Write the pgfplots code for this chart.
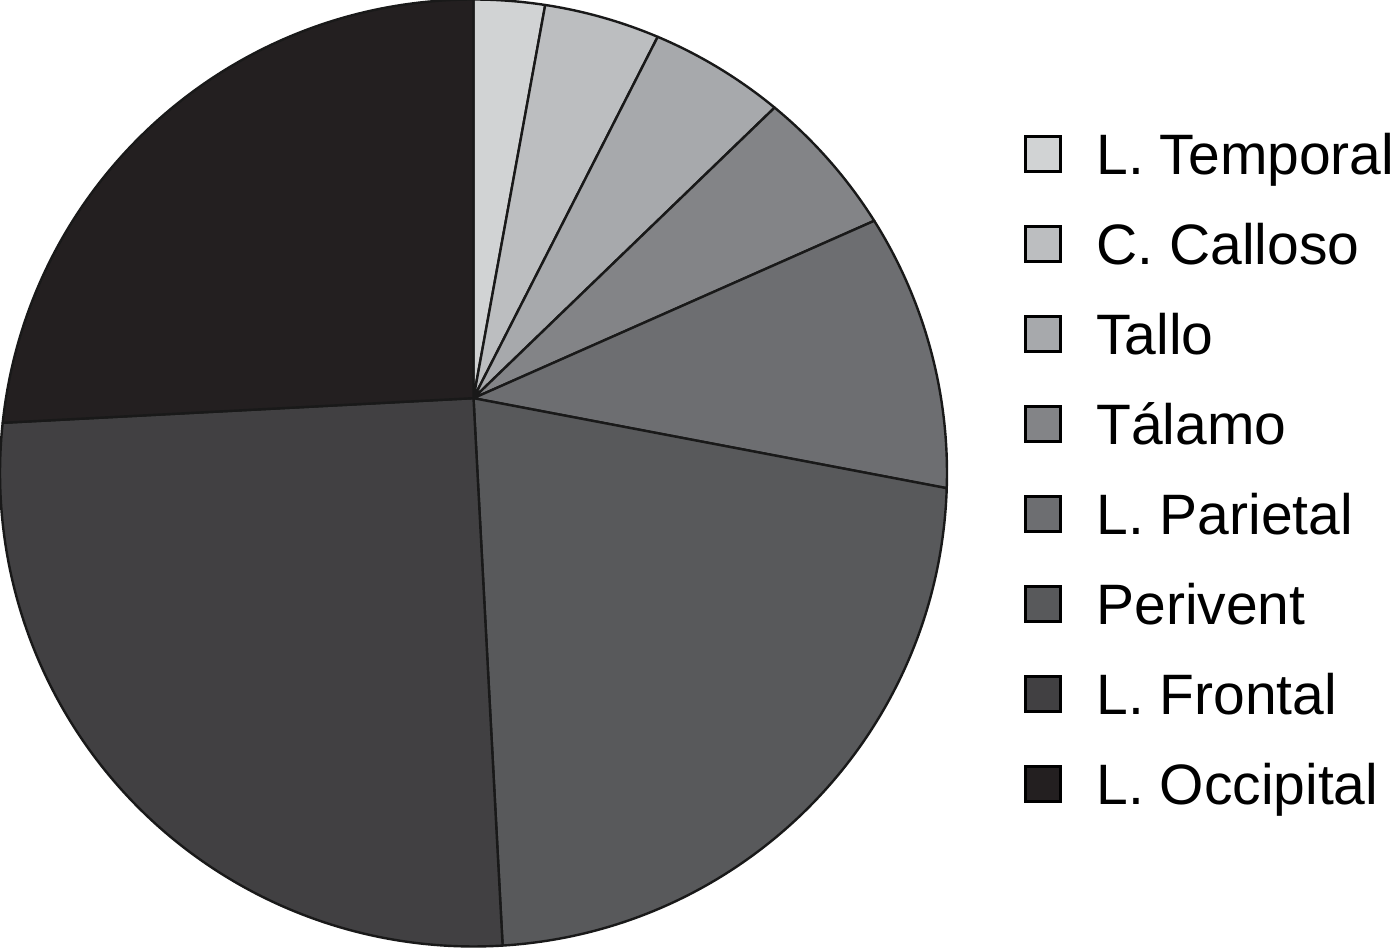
\documentclass[border=0pt]{standalone}
\usepackage{fontspec}
\setmainfont{Liberation Sans}
\usepackage{pgfplots}
\usepackage{pgfplotstable}
\pgfplotsset{compat=1.18}

\definecolor{slice0}{HTML}{D1D3D4}
\definecolor{slice1}{HTML}{BCBEC0}
\definecolor{slice2}{HTML}{A7A9AC}
\definecolor{slice3}{HTML}{838487}
\definecolor{slice4}{HTML}{6D6E71}
\definecolor{slice5}{HTML}{58595B}
\definecolor{slice6}{HTML}{414042}
\definecolor{slice7}{HTML}{231F20}

% percentages of the circle, clockwise from the top
\pgfplotstableread{
pct
2.42
3.94
4.61
5.09
9.45
23.51
27.67
23.31
}\piedata

\begin{document}
\begin{tikzpicture}
\useasboundingbox (0,0) rectangle (697pt,474pt);
% cumulative boundary angles
\expandafter\xdef\csname b0\endcsname{90}
\xdef\cum{0}
\foreach \i in {0,...,7}{
  \pgfplotstablegetelem{\i}{pct}\of\piedata
  \pgfmathsetmacro\tmp{\cum+\pgfplotsretval}
  \xdef\cum{\tmp}
  \pgfmathtruncatemacro\j{\i+1}
  \pgfmathsetmacro\ang{90-3.6*\tmp}
  \expandafter\xdef\csname b\j\endcsname{\ang}
}
\def\R{236.75pt}
\begin{axis}[
  at={(0pt,0.75pt)}, anchor=south west,
  x=236.75pt, y=236.75pt,
  xmin=-1, xmax=1, ymin=-1, ymax=1,
  hide axis, clip=false,
  legend cell align=left,
  legend image code/.code={\draw[#1, line width=1.2pt] (0pt,-8.75pt) rectangle (17.5pt,8.75pt);},
  legend style={at={(1.0815,0.8585)}, anchor=north west, draw=none, fill=none,
    inner sep=0pt, outer sep=0pt, row sep=24.6pt, column sep=17.4pt,
    font=\fontsize{28.5}{34}\selectfont,
    nodes={inner sep=0pt, text height=20.4pt, text depth=0pt}},
]
\pgfplotsinvokeforeach{0,...,7}{
  \pgfmathtruncatemacro\nxt{#1+1}
  \edef\temp{\noexpand\filldraw[fill=slice#1, draw=black!90, line width=1.2pt, line join=round]
    (axis cs:0,0.158) -- (axis cs:{cos(\csname b#1\endcsname)},{sin(\csname b#1\endcsname)})
    arc[start angle=\csname b#1\endcsname, end angle=\csname b\nxt\endcsname, radius=\R] -- cycle;}
  \temp
}
\addlegendimage{fill=slice0, draw=black}\addlegendentry{L. Temporal}
\addlegendimage{fill=slice1, draw=black}\addlegendentry{C. Calloso}
\addlegendimage{fill=slice2, draw=black}\addlegendentry{Tallo}
\addlegendimage{fill=slice3, draw=black}\addlegendentry{Tálamo}
\addlegendimage{fill=slice4, draw=black}\addlegendentry{L. Parietal}
\addlegendimage{fill=slice5, draw=black}\addlegendentry{Perivent}
\addlegendimage{fill=slice6, draw=black}\addlegendentry{L. Frontal}
\addlegendimage{fill=slice7, draw=black}\addlegendentry{L. Occipital}
\end{axis}
\end{tikzpicture}
\end{document}
